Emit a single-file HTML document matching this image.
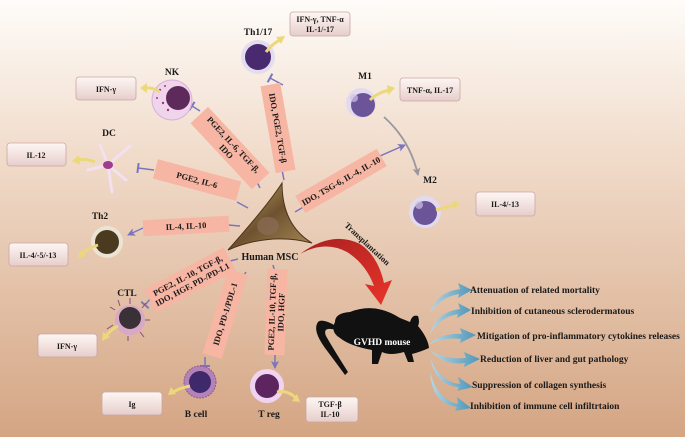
<!DOCTYPE html>
<html><head><meta charset="utf-8"><style>
html,body{margin:0;padding:0;}
body{width:685px;height:437px;overflow:hidden;}
svg{display:block;}
text{font-family:"Liberation Serif",serif;font-weight:bold;fill:#1a1a1a;}
</style></head><body>
<svg width="685" height="437" viewBox="0 0 685 437" xmlns="http://www.w3.org/2000/svg">
<defs>
<linearGradient id="bg" x1="0" y1="0" x2="0" y2="1">
<stop offset="0" stop-color="#fefcf9"/><stop offset="0.35" stop-color="#f1dccb"/><stop offset="1" stop-color="#d4a583"/>
</linearGradient>
<linearGradient id="box" x1="0" y1="0" x2="0" y2="1">
<stop offset="0" stop-color="#fdf6f3"/><stop offset="0.5" stop-color="#f2e3e0"/><stop offset="1" stop-color="#e6cdca"/>
</linearGradient>
<linearGradient id="msc" x1="0" y1="0" x2="1" y2="1">
<stop offset="0" stop-color="#c9a86a"/><stop offset="0.5" stop-color="#6e5230"/><stop offset="1" stop-color="#a88a55"/>
</linearGradient>
<linearGradient id="blu" x1="0" y1="0" x2="1" y2="0">
<stop offset="0" stop-color="#b7d6e4"/><stop offset="1" stop-color="#4f97b8"/>
</linearGradient>
<linearGradient id="red" x1="0" y1="0" x2="1" y2="1">
<stop offset="0" stop-color="#a82020"/><stop offset="1" stop-color="#e8342a"/>
</linearGradient>
<marker id="ah" markerUnits="userSpaceOnUse" markerWidth="9" markerHeight="8" refX="7" refY="4" orient="auto"><path d="M0,0 L8,4 L0,8 L2,4 Z" fill="#7b75c0"/></marker>
<marker id="tb" markerUnits="userSpaceOnUse" markerWidth="4" markerHeight="10" refX="2" refY="5" orient="auto"><rect x="1" y="0" width="2" height="10" fill="#7b75c0"/></marker>
<marker id="gh" markerUnits="userSpaceOnUse" markerWidth="9" markerHeight="8" refX="7" refY="4" orient="auto"><path d="M0,0 L8,4 L0,8 L2,4 Z" fill="#9a96a0"/></marker>
</defs>
<rect width="685" height="437" fill="url(#bg)"/>

<g stroke="#7b75c0" stroke-width="1.5" fill="none">
<line x1="260" y1="188" x2="252" y2="172"/>
<line x1="282" y1="170" x2="284" y2="180"/>
<line x1="200" y1="111" x2="192" y2="106" marker-end="url(#tb)"/>
<line x1="237" y1="202" x2="248" y2="208"/>
<line x1="154" y1="170" x2="138" y2="168" marker-end="url(#tb)"/>
<line x1="283" y1="85" x2="270" y2="78" marker-end="url(#tb)"/>
<line x1="228" y1="225" x2="240" y2="226"/>
<line x1="143" y1="228" x2="128" y2="235" marker-end="url(#ah)"/>
<line x1="295" y1="212" x2="305" y2="206"/>
<line x1="380" y1="156" x2="405" y2="145" marker-end="url(#ah)"/>
<line x1="230" y1="261" x2="238" y2="259"/>
<line x1="151" y1="298" x2="145" y2="305" marker-end="url(#tb)"/>
<line x1="246" y1="272" x2="242" y2="278"/>
<line x1="205" y1="357" x2="205" y2="366" marker-end="url(#tb)"/>
<line x1="273" y1="265" x2="275" y2="272"/>
<line x1="275" y1="352" x2="275" y2="368" marker-end="url(#ah)"/>
</g>
<path d="M384,117 Q410,140 418,175" stroke="#9a96a0" stroke-width="1.8" fill="none" marker-end="url(#gh)"/>

<g font-size="8.5">
<g transform="translate(230,148) rotate(47)"><rect x="-45" y="-12" width="90" height="24" fill="#f7b5a3"/><text x="0" y="-2" text-anchor="middle">PGE2, IL-6, TGF-β,</text><text x="0" y="8" text-anchor="middle">IDO</text></g>
<g transform="translate(278,128) rotate(80)"><rect x="-44" y="-10" width="88" height="20" fill="#f7b5a3"/><text x="0" y="3" text-anchor="middle">IDO, PGE2, TGF-β</text></g>
<g transform="translate(197,180) rotate(15)"><rect x="-43" y="-10" width="86" height="20" fill="#f7b5a3"/><text x="0" y="3" text-anchor="middle">PGE2, IL-6</text></g>
<g transform="translate(186,226) rotate(-3)"><rect x="-43" y="-8" width="86" height="16" fill="#f7b5a3"/><text x="0" y="3" text-anchor="middle">IL-4, IL-10</text></g>
<g transform="translate(341,181) rotate(-30)"><rect x="-47" y="-10" width="94" height="20" fill="#f7b5a3"/><text x="0" y="3" text-anchor="middle">IDO, TSG-6, IL-4, IL-10</text></g>
<g transform="translate(190,280) rotate(-28)"><rect x="-45" y="-13" width="90" height="26" fill="#f7b5a3"/><text x="0" y="-2" text-anchor="middle">PGE2, IL-10, TGF-β,</text><text x="0" y="8" text-anchor="middle">IDO, HGF, PD-/PD-L1</text></g>
<g transform="translate(225,314) rotate(-73)"><rect x="-44" y="-10" width="88" height="20" fill="#f7b5a3"/><text x="0" y="3" text-anchor="middle">IDO, PD-1/PDL-1</text></g>
<g transform="translate(276,312) rotate(-88)"><rect x="-43" y="-10" width="86" height="20" fill="#f7b5a3"/><text x="0" y="-1" text-anchor="middle">PGE2, IL-10, TGF-β,</text><text x="0" y="8" text-anchor="middle">IDO, HGF</text></g>
</g>

<path d="M282,183 Q268,205 228,250 Q270,232 312,243 Q282,225 282,183 Z" fill="url(#msc)" stroke="#4a3418" stroke-width="1"/>
<ellipse cx="268" cy="226" rx="11" ry="9" fill="#8a6a52" opacity="0.8"/>
<text x="270" y="260" font-size="10" text-anchor="middle">Human MSC</text>

<!-- transplant arrow -->
<path d="M300,254 Q325,240 347,252 Q366,264 374,286 L365,284 L381,305 L392,280 L384,283 Q378,256 360,244 Q332,230 300,254 Z" fill="url(#red)"/>
<text font-size="8.5" transform="translate(344,226) rotate(43)">Transplantation</text>

<g font-size="8.5" stroke="#caa6a6" stroke-width="0.8">
<rect x="290" y="12" width="60" height="24" rx="3" fill="url(#box)"/>
<rect x="76" y="77" width="60" height="23" rx="3" fill="url(#box)"/>
<rect x="7" y="143" width="59" height="23" rx="3" fill="url(#box)"/>
<rect x="400" y="78" width="60" height="23" rx="3" fill="url(#box)"/>
<rect x="476" y="192" width="59" height="24" rx="3" fill="url(#box)"/>
<rect x="9" y="243" width="59" height="23" rx="3" fill="url(#box)"/>
<rect x="38" y="334" width="59" height="23" rx="3" fill="url(#box)"/>
<rect x="102" y="392" width="60" height="23" rx="3" fill="url(#box)"/>
<rect x="306" y="397" width="52" height="25" rx="3" fill="url(#box)"/>
</g>
<g font-size="8" text-anchor="middle">
<text x="320" y="22">IFN-γ, TNF-α</text><text x="320" y="32">IL-1/-17</text>
<text x="106" y="92">IFN-γ</text>
<text x="36" y="158">IL-12</text>
<text x="430" y="93">TNF-α, IL-17</text>
<text x="505" y="207">IL-4/-13</text>
<text x="38" y="258">IL-4/-5/-13</text>
<text x="67" y="349">IFN-γ</text>
<text x="132" y="407">Ig</text>
<text x="330" y="407">TGF-β</text><text x="330" y="417">IL-10</text>
</g>

<g>
<circle cx="258" cy="57" r="17" fill="#e4dcef"/><circle cx="258" cy="57" r="13" fill="#4a2a6f"/>
<circle cx="172" cy="100" r="20" fill="#f0d4ec" stroke="#d9b0d6"/><circle cx="178" cy="98" r="12" fill="#5e2a5c"/>
<g fill="#9a3a8a"><circle cx="160" cy="90" r="1.2"/><circle cx="163" cy="103" r="1.2"/><circle cx="157" cy="98" r="1"/><circle cx="168" cy="110" r="1.2"/><circle cx="165" cy="86" r="1"/></g>
<g stroke="#f3e0f0" stroke-width="3" stroke-linecap="round" fill="none">
<path d="M108,165 L100,145"/><path d="M108,165 L130,146"/><path d="M108,165 L126,180"/><path d="M108,165 L112,192"/><path d="M108,165 L88,170"/>
</g>
<ellipse cx="108" cy="165" rx="5" ry="4" fill="#a03c90"/>
<circle cx="361" cy="103" r="15" fill="#e2dbef"/><circle cx="363" cy="105" r="12" fill="#6c5498"/><circle cx="354" cy="98" r="4" fill="#cfc3e6" opacity="0.7"/>
<circle cx="425" cy="212" r="16" fill="#e2dbef"/><circle cx="425" cy="213" r="12" fill="#6c5498"/><circle cx="419" cy="205" r="4" fill="#cfc3e6" opacity="0.7"/>
<circle cx="107" cy="242" r="16" fill="#ebe3d3"/><circle cx="107" cy="242" r="12" fill="#4a3a20"/>
<circle cx="130" cy="320" r="15" fill="#d8a8c6"/><circle cx="130" cy="318" r="11" fill="#3a3038"/>
<g stroke="#8a4a86" stroke-width="1"><line x1="115" y1="310" x2="110" y2="307"/><line x1="120" y1="306" x2="118" y2="300"/><line x1="130" y1="304" x2="130" y2="298"/><line x1="142" y1="308" x2="146" y2="303"/><line x1="145" y1="320" x2="150" y2="320"/><line x1="140" y1="332" x2="144" y2="337"/><line x1="128" y1="336" x2="128" y2="341"/><line x1="113" y1="325" x2="107" y2="329"/></g>
<circle cx="200" cy="382" r="16" fill="#b382b8" stroke="#8c5a98" stroke-dasharray="2 1"/><circle cx="200" cy="382" r="11" fill="#3e2a6a"/>
<circle cx="267" cy="386" r="17" fill="#f0d3f0"/><circle cx="267" cy="386" r="12" fill="#5c2560"/>
</g>
<g stroke="#ecd87a" stroke-width="3" fill="none">
<path d="M266,52 Q272,44 280,40"/><path d="M160,92 Q153,87 145,88"/><path d="M95,162 Q85,158 77,160"/>
<path d="M370,100 Q378,92 390,90"/><path d="M436,210 L455,205"/><path d="M98,245 Q88,248 82,254"/>
<path d="M118,326 Q110,330 106,336"/><path d="M190,386 Q180,388 173,392"/><path d="M277,392 Q288,390 296,398"/>
</g>
<g fill="#ecd87a">
<path d="M285,36 L276,37 L281,44 Z"/><path d="M140,88 L147,83 L147,93 Z"/><path d="M72,161 L79,155 L80,165 Z"/>
<path d="M395,88 L387,85 L388,95 Z"/><path d="M460,204 L453,200 L454,209 Z"/><path d="M78,258 L80,250 L86,256 Z"/>
<path d="M102,341 L103,332 L110,337 Z"/><path d="M168,395 L171,387 L176,394 Z"/><path d="M300,402 L292,401 L297,394 Z"/>
</g>

<g font-size="9.5" text-anchor="middle">
<text x="258" y="35">Th1/17</text><text x="172" y="75">NK</text><text x="109" y="136">DC</text>
<text x="365" y="79">M1</text><text x="430" y="183">M2</text><text x="100" y="219">Th2</text>
<text x="127" y="296">CTL</text><text x="196" y="417">B cell</text><text x="269" y="417">T reg</text>
</g>

<path d="M335,322 Q335,313 350,312 Q375,302 400,318 L410,322 Q412,314 418,316 Q420,322 418,326 Q428,338 429,348 Q420,352 412,354 L414,362 L408,362 L404,352 Q390,356 382,352 L378,364 L372,364 L372,350 Q350,346 340,338 Q330,332 335,322 Z" fill="#111"/>
<path d="M336,326 Q322,318 318,322 Q312,330 325,348 Q340,368 345,375 L348,372 Q334,350 326,336 Q322,326 336,330 Z" fill="#111"/>
<text x="382" y="345" font-size="9.5" text-anchor="middle" style="fill:#fff">GVHD mouse</text>

<g fill="url(#blu)">
<path d="M430,314 Q436,292 460,289 L458,283 L472,290 L458,298 L459,294 Q440,297 430,314 Z"/>
<path d="M430,334 Q436,312 460,309 L458,303 L471,310 L457,318 L458,314 Q440,317 430,334 Z"/>
<path d="M430,344 Q440,333 462,334 L460,328 L476,335 L460,343 L461,339 Q444,337 430,344 Z"/>
<path d="M430,350 Q444,360 466,358 L464,352 L480,359 L464,367 L465,363 Q444,366 430,350 Z"/>
<path d="M430,358 Q440,382 460,384 L458,377 L473,387 L457,391 L459,387 Q436,386 430,358 Z"/>
<path d="M430,372 Q438,400 458,404 L457,397 L471,408 L455,411 L457,407 Q432,404 430,372 Z"/>
</g>
<g font-size="9.5">
<text x="470" y="293">Attenuation of related mortality</text>
<text x="471" y="314">Inhibition of cutaneous sclerodermatous</text>
<text x="477" y="339">Mitigation of pro-inflammatory cytokines releases</text>
<text x="480" y="362">Reduction of liver and gut pathology</text>
<text x="472" y="388">Suppression of collagen synthesis</text>
<text x="470" y="409">Inhibition of immune cell infiltrtaion</text>
</g>
</svg>
</body></html>
